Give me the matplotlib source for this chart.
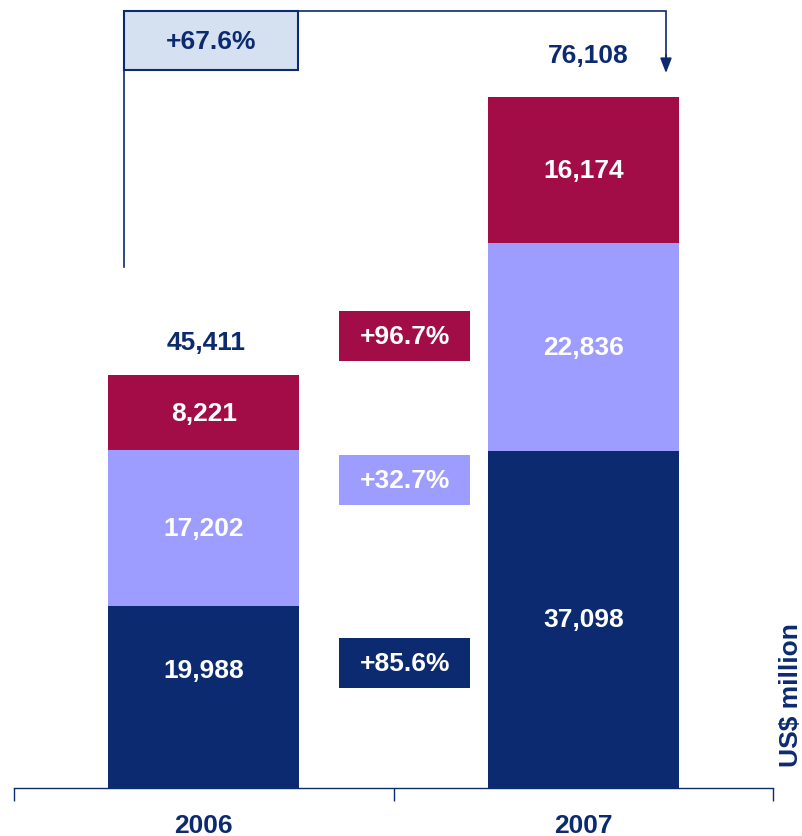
import matplotlib
matplotlib.use("Agg")
from matplotlib import pyplot as plt
from matplotlib.patches import Rectangle
import numpy as np

plt.rcParams['font.family'] = ['Liberation Sans', 'DejaVu Sans']

years   = ["2006", "2007"]
navy_v  = [19988, 37098]
purp_v  = [17202, 22836]
red_v   = [8221, 16174]
totals  = [45411, 76108]
growth  = ["+85.6%", "+32.7%", "+96.7%"]
total_growth = "+67.6%"

navy   = "#0B2A70"
purple = "#9D9CFF"
red    = "#A20D47"
light  = "#D5E1F1"
fs = 19

fig = plt.figure(figsize=(8.02, 8.37), dpi=100)
ax = fig.add_axes([14/802, 48.5/837, 759/802, 788/837])

x = np.arange(len(years))
w = 0.503
ax.bar(x, navy_v, w, color=navy)
ax.bar(x, purp_v, w, bottom=navy_v, color=purple)
ax.bar(x, red_v, w, bottom=np.add(navy_v, purp_v), color=red)

ax.set_xlim(-0.5, 1.5)
ax.set_ylim(0, 86800)

# segment labels
for i in range(len(years)):
    bottoms = [0, navy_v[i], navy_v[i] + purp_v[i]]
    vals = [navy_v[i], purp_v[i], red_v[i]]
    for b, v in zip(bottoms, vals):
        yy = b + v / 2
        if i == 0 and b == 0:
            yy = 12900
        ax.text(i, yy, f"{v:,}", ha="center", va="center", color="white",
                fontsize=fs, fontweight="bold")

# totals
gaps = [3700, 4600]
for i, t in enumerate(totals):
    ax.text(i + (0.012 if i == 1 else 0.005), t + gaps[i], f"{t:,}",
            ha="center", va="center", color=navy, fontsize=fs, fontweight="bold")

# growth boxes between bars
gx = 0.53
gy = [13700, 33900, 49700]
gcol = [navy, purple, red]
bw, bh = 0.345, 5500
for lab, yy, c in zip(growth, gy, gcol):
    ax.add_patch(Rectangle((gx - bw/2, yy - bh/2), bw, bh, facecolor=c,
                           edgecolor="none", clip_on=False))
    ax.text(gx, yy, lab, ha="center", va="center", color="white",
            fontsize=fs, fontweight="bold")

# overall growth bracket
lx, rx = -0.21, 1.218
ytop, ylow, ytip = 85500, 57300, 78700
ax.plot([lx, lx, rx, rx], [ylow, ytop, ytop, ytip + 1800], color=navy,
        lw=1.2, clip_on=False, solid_joinstyle="miter")
ax.annotate("", xy=(rx, ytip), xytext=(rx, ytip + 2000),
            arrowprops=dict(arrowstyle="-|>,head_length=0.9,head_width=0.35",
                            color=navy, lw=1.2, shrinkA=0, shrinkB=0))
ax.add_patch(Rectangle((lx, 79000), 0.458, ytop - 79000, facecolor=light,
                       edgecolor=navy, lw=1.5, clip_on=False))
ax.text(lx + 0.229, (79000 + ytop) / 2, total_growth, ha="center", va="center",
        color=navy, fontsize=fs, fontweight="bold")

# axis
for s in ["top", "left", "right"]:
    ax.spines[s].set_visible(False)
ax.spines["bottom"].set_color(navy)
ax.spines["bottom"].set_linewidth(1.0)
ax.set_yticks([])
ax.set_xticks(x)
ax.set_xticklabels(years, fontsize=fs, fontweight="bold", color=navy)
ax.tick_params(axis="x", which="major", length=0, pad=18.5)
ax.set_xticks([-0.5, 0.5, 1.5], minor=True)
ax.tick_params(axis="x", which="minor", length=9, color=navy, width=1.0)

fig.text(0.986, (837 - 695) / 837, "US$ million", rotation=90, ha="center",
         va="center", color=navy, fontsize=fs, fontweight="bold")

fig.savefig("out.png", dpi=100)
